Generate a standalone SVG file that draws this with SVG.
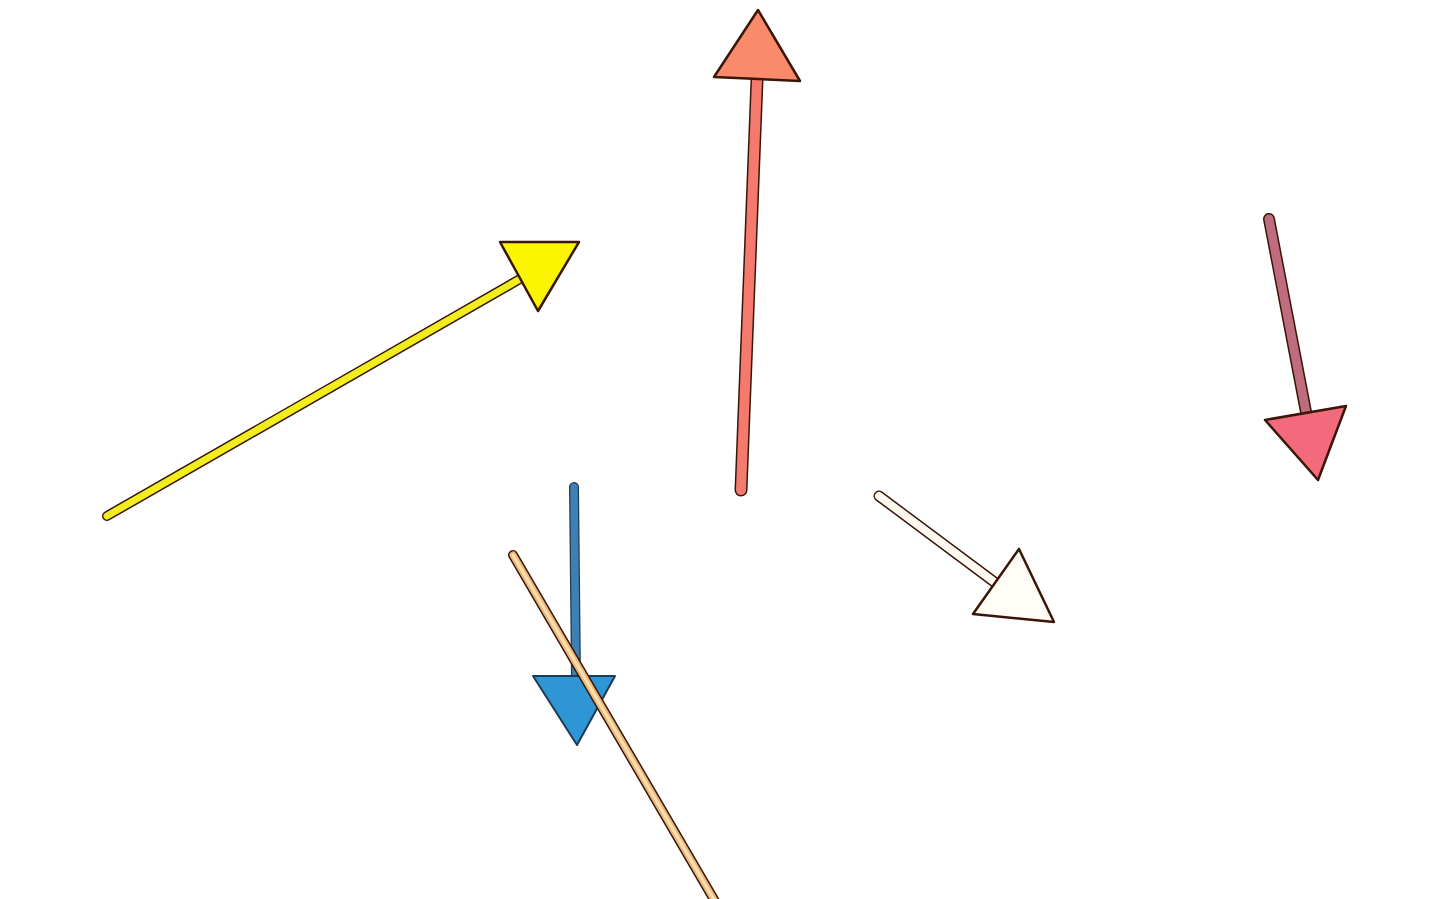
<svg xmlns="http://www.w3.org/2000/svg" width="1455" height="899" viewBox="0 0 1455 899">
<style>
.edge{fill:none;stroke-linecap:round;stroke-linejoin:round}
.ol{stroke:#3a1608}
.head{stroke:#3a1608;stroke-width:2.5;stroke-linejoin:round}
</style>
<rect width="1455" height="899" fill="#ffffff"/>
<g id="arrow-yellow">
<line class="edge ol" x1="107" y1="516" x2="520" y2="279" stroke-width="10"/>
<line class="edge" x1="107" y1="516" x2="520" y2="279" stroke="#f2ee1c" stroke-width="7"/>
<polygon class="head" points="500,242 579,242 538,311" fill="#fbf500"/>
</g>
<g id="arrow-red">
<line class="edge ol" x1="741" y1="490" x2="757" y2="80" stroke-width="13"/>
<line class="edge" x1="741" y1="490" x2="757" y2="80" stroke="#f37a6c" stroke-width="10"/>
<polygon class="head" points="758,10 714,77 800,81" fill="#fa8a6c"/>
</g>
<g id="arrow-pink">
<line class="edge ol" x1="1269" y1="219" x2="1306" y2="412" stroke-width="12"/>
<line class="edge" x1="1269" y1="219" x2="1306" y2="412" stroke="#c06c80" stroke-width="9"/>
<polygon class="head" points="1265,420 1346,406 1318,480" fill="#f26a7c"/>
</g>
<g id="arrow-white">
<line class="edge ol" x1="879" y1="496" x2="997" y2="584" stroke-width="11"/>
<line class="edge" x1="879" y1="496" x2="997" y2="584" stroke="#fffaf0" stroke-width="8"/>
<polygon class="head" points="1019,549 973,614 1054,622" fill="#fffdf6"/>
</g>
<g id="arrow-blue">
<line class="edge" x1="574" y1="487" x2="576" y2="678" stroke="#1e3a55" stroke-width="10"/>
<line class="edge" x1="574" y1="487" x2="576" y2="678" stroke="#3f80b4" stroke-width="7.5"/>
<polygon points="533,676 615,676 577,745" fill="#2f96d6" stroke="#1e3a55" stroke-width="2" stroke-linejoin="round"/>
</g>
<g id="line-tan">
<line class="edge ol" x1="513" y1="555" x2="716" y2="903" stroke-width="10"/>
<line class="edge" x1="513" y1="555" x2="716" y2="903" stroke="#eeb77c" stroke-width="7"/>
<line class="edge" x1="513" y1="555" x2="716" y2="903" stroke="#fce0b0" stroke-width="3"/>
</g>
</svg>
